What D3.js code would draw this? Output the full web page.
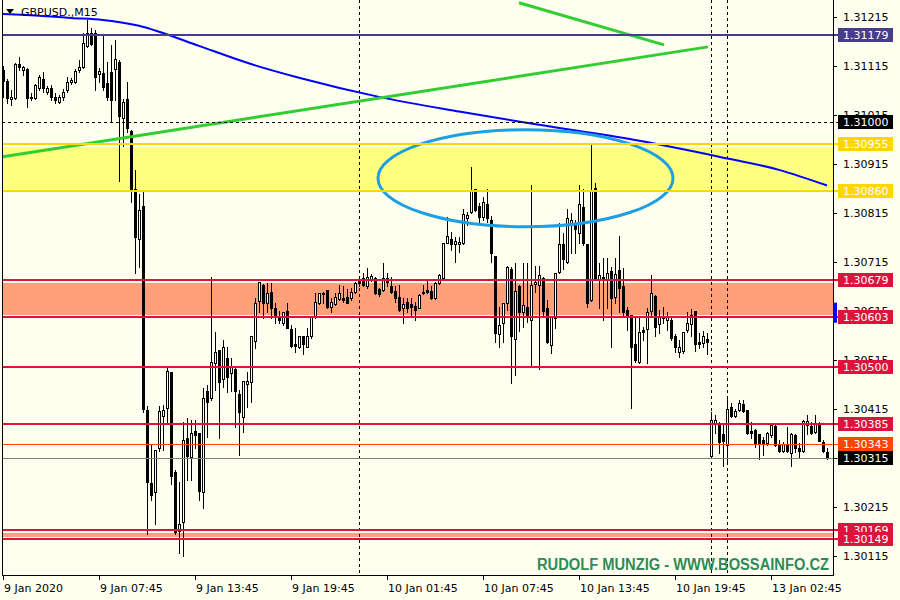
<!DOCTYPE html>
<html><head><meta charset="utf-8">
<script src="https://cdnjs.cloudflare.com/ajax/libs/d3/7.8.5/d3.min.js"></script>
<style>body{margin:0;background:#FFFFF0;} svg{display:block;font-family:"DejaVu Sans",Verdana,sans-serif;}</style>
</head><body><svg id="chart" width="900" height="600"></svg>
<script>
const symbolTitle = "GBPUSD.,M15";
const watermark = "RUDOLF MUNZIG - WWW.BOSSAINFO.CZ";

const openP = [
1.31107,1.31085,1.31048,1.31050,1.31119,1.31107,1.31109,1.31052,1.31050,1.31070,
1.31089,1.31062,1.31070,1.31052,1.31042,1.31052,1.31066,1.31083,1.31083,1.31107,
1.31113,1.31156,1.31183,1.31183,1.31099,1.31101,1.31081,1.31103,1.31109,1.31124,
1.31009,1.31048,1.30983,1.30864,1.30762,1.30830,1.30412,1.30263,1.30246,1.30336,
1.30401,1.30418,1.30491,1.30287,1.30167,1.30185,1.30356,1.30318,1.30371,1.30367,
1.30246,1.30452,1.30438,1.30509,1.30536,1.30477,1.30520,1.30489,1.30497,1.30446,
1.30399,1.30467,1.30471,1.30554,1.30636,1.30669,1.30632,1.30654,1.30622,1.30603,
1.30591,1.30616,1.30579,1.30548,1.30542,1.30563,1.30542,1.30563,1.30603,1.30632,
1.30652,1.30658,1.30624,1.30630,1.30640,1.30642,1.30644,1.30642,1.30654,1.30677,
1.30683,1.30665,1.30679,1.30683,1.30660,1.30658,1.30683,1.30667,1.30656,1.30644,
1.30622,1.30634,1.30630,1.30626,1.30622,1.30652,1.30658,1.30656,1.30642,1.30673,
1.30683,1.30754,1.30762,1.30752,1.30752,1.30754,1.30805,1.30818,1.30864,1.30830,
1.30807,1.30834,1.30801,1.30728,1.30569,1.30591,1.30632,1.30701,1.30558,1.30667,
1.30612,1.30624,1.30597,1.30671,1.30669,1.30683,1.30622,1.30546,1.30601,1.30695,
1.30752,1.30716,1.30795,1.30791,1.30775,1.30828,1.30752,1.30638,1.30867,1.30679,
1.30685,1.30679,1.30697,1.30644,1.30699,1.30667,1.30618,1.30607,1.30548,1.30511,
1.30577,1.30579,1.30614,1.30646,1.30589,1.30603,1.30597,1.30597,1.30565,1.30532,
1.30534,1.30577,1.30589,1.30614,1.30552,1.30550,1.30558,1.30320,1.30387,1.30383,
1.30363,1.30342,1.30420,1.30401,1.30412,1.30426,1.30412,1.30371,1.30373,1.30363,
1.30352,1.30346,1.30361,1.30381,1.30344,1.30330,1.30344,1.30326,1.30361,1.30336,
1.30330,1.30383,1.30381,1.30369,1.30387,1.30348,1.30328];

const highP = [
1.31115,1.31089,1.31066,1.31121,1.31134,1.31115,1.31111,1.31060,1.31079,1.31097,
1.31103,1.31075,1.31077,1.31060,1.31056,1.31068,1.31093,1.31091,1.31109,1.31128,
1.31183,1.31209,1.31193,1.31189,1.31111,1.31177,1.31124,1.31158,1.31168,1.31128,
1.31048,1.31083,1.30985,1.30903,1.30854,1.30862,1.30422,1.30342,1.30332,1.30422,
1.30424,1.30503,1.30491,1.30291,1.30265,1.30389,1.30397,1.30393,1.30393,1.30367,
1.30458,1.30463,1.30685,1.30573,1.30536,1.30556,1.30542,1.30520,1.30501,1.30454,
1.30473,1.30491,1.30563,1.30642,1.30675,1.30671,1.30673,1.30673,1.30632,1.30614,
1.30612,1.30632,1.30587,1.30581,1.30563,1.30563,1.30581,1.30603,1.30652,1.30652,
1.30654,1.30658,1.30642,1.30652,1.30669,1.30665,1.30660,1.30662,1.30675,1.30683,
1.30693,1.30703,1.30691,1.30685,1.30662,1.30713,1.30693,1.30685,1.30667,1.30669,
1.30642,1.30642,1.30642,1.30634,1.30650,1.30669,1.30679,1.30665,1.30675,1.30691,
1.30754,1.30807,1.30777,1.30767,1.30767,1.30824,1.30818,1.30909,1.30864,1.30836,
1.30848,1.30864,1.30809,1.30728,1.30624,1.30632,1.30707,1.30705,1.30713,1.30669,
1.30713,1.30713,1.30873,1.30707,1.30707,1.30685,1.30638,1.30603,1.30693,1.30795,
1.30775,1.30824,1.30816,1.30801,1.30873,1.30864,1.30752,1.30954,1.30877,1.30713,
1.30724,1.30724,1.30705,1.30724,1.30769,1.30703,1.30624,1.30607,1.30605,1.30603,
1.30583,1.30622,1.30689,1.30648,1.30618,1.30624,1.30612,1.30605,1.30569,1.30556,
1.30573,1.30612,1.30620,1.30614,1.30571,1.30575,1.30571,1.30408,1.30403,1.30389,
1.30383,1.30438,1.30428,1.30416,1.30434,1.30434,1.30412,1.30389,1.30375,1.30363,
1.30358,1.30369,1.30387,1.30383,1.30352,1.30348,1.30379,1.30367,1.30363,1.30346,
1.30393,1.30403,1.30389,1.30403,1.30389,1.30352,1.30336];

const lowP = [
1.31052,1.31040,1.31036,1.31048,1.31107,1.31097,1.31032,1.31046,1.31048,1.31066,
1.31062,1.31058,1.31046,1.31040,1.31040,1.31046,1.31062,1.31079,1.31081,1.31103,
1.31111,1.31154,1.31158,1.31066,1.31083,1.31066,1.31046,1.31001,1.31046,1.30881,
1.30952,1.30981,1.30838,1.30693,1.30705,1.30408,1.30159,1.30230,1.30181,1.30330,
1.30332,1.30389,1.30261,1.30159,1.30122,1.30114,1.30271,1.30271,1.30336,1.30230,
1.30212,1.30358,1.30434,1.30454,1.30356,1.30460,1.30450,1.30452,1.30379,1.30322,
1.30369,1.30420,1.30430,1.30540,1.30612,1.30601,1.30612,1.30601,1.30591,1.30591,
1.30587,1.30581,1.30542,1.30532,1.30540,1.30528,1.30542,1.30560,1.30601,1.30630,
1.30632,1.30622,1.30612,1.30628,1.30638,1.30634,1.30632,1.30638,1.30652,1.30665,
1.30665,1.30662,1.30677,1.30650,1.30646,1.30656,1.30665,1.30652,1.30634,1.30614,
1.30591,1.30612,1.30607,1.30597,1.30622,1.30650,1.30652,1.30640,1.30640,1.30671,
1.30681,1.30754,1.30740,1.30716,1.30736,1.30752,1.30791,1.30816,1.30820,1.30797,
1.30801,1.30797,1.30716,1.30552,1.30542,1.30552,1.30618,1.30469,1.30485,1.30575,
1.30583,1.30593,1.30501,1.30654,1.30497,1.30607,1.30550,1.30530,1.30581,1.30693,
1.30701,1.30713,1.30734,1.30734,1.30754,1.30750,1.30624,1.30636,1.30679,1.30622,
1.30597,1.30622,1.30542,1.30632,1.30612,1.30607,1.30577,1.30418,1.30511,1.30509,
1.30556,1.30509,1.30605,1.30563,1.30571,1.30591,1.30577,1.30556,1.30532,1.30522,
1.30530,1.30573,1.30563,1.30534,1.30540,1.30542,1.30528,1.30316,1.30367,1.30326,
1.30299,1.30305,1.30399,1.30399,1.30410,1.30408,1.30365,1.30356,1.30338,1.30312,
1.30322,1.30342,1.30358,1.30340,1.30328,1.30328,1.30328,1.30299,1.30328,1.30318,
1.30328,1.30363,1.30365,1.30367,1.30350,1.30328,1.30312];

const closeP = [
1.31085,1.31050,1.31052,1.31119,1.31113,1.31113,1.31050,1.31050,1.31077,1.31093,
1.31070,1.31070,1.31052,1.31046,1.31052,1.31062,1.31083,1.31087,1.31105,1.31113,
1.31162,1.31183,1.31160,1.31093,1.31105,1.31073,1.31052,1.31046,1.31130,1.31013,
1.31042,1.30989,1.30864,1.30767,1.30822,1.30414,1.30265,1.30240,1.30332,1.30410,
1.30412,1.30493,1.30279,1.30163,1.30181,1.30352,1.30320,1.30367,1.30361,1.30248,
1.30438,1.30430,1.30511,1.30532,1.30471,1.30542,1.30481,1.30501,1.30452,1.30408,
1.30473,1.30473,1.30563,1.30632,1.30675,1.30632,1.30652,1.30622,1.30603,1.30597,
1.30612,1.30581,1.30544,1.30544,1.30563,1.30548,1.30563,1.30603,1.30634,1.30652,
1.30650,1.30624,1.30634,1.30644,1.30652,1.30638,1.30632,1.30654,1.30673,1.30673,
1.30669,1.30685,1.30687,1.30652,1.30650,1.30683,1.30675,1.30654,1.30642,1.30618,
1.30630,1.30622,1.30624,1.30618,1.30648,1.30654,1.30654,1.30642,1.30673,1.30689,
1.30754,1.30769,1.30752,1.30758,1.30756,1.30813,1.30811,1.30860,1.30822,1.30807,
1.30838,1.30805,1.30734,1.30571,1.30587,1.30632,1.30705,1.30563,1.30656,1.30612,
1.30628,1.30603,1.30669,1.30675,1.30689,1.30616,1.30552,1.30603,1.30693,1.30752,
1.30722,1.30805,1.30801,1.30783,1.30834,1.30754,1.30632,1.30862,1.30683,1.30689,
1.30683,1.30693,1.30642,1.30691,1.30662,1.30612,1.30603,1.30542,1.30516,1.30573,
1.30573,1.30612,1.30652,1.30583,1.30605,1.30601,1.30603,1.30560,1.30542,1.30542,
1.30573,1.30591,1.30607,1.30548,1.30548,1.30563,1.30552,1.30393,1.30393,1.30348,
1.30350,1.30416,1.30401,1.30410,1.30428,1.30410,1.30367,1.30367,1.30344,1.30344,
1.30344,1.30367,1.30383,1.30342,1.30330,1.30344,1.30330,1.30363,1.30336,1.30330,
1.30391,1.30391,1.30367,1.30387,1.30350,1.30330,1.30315];

// Moving average (anchor bars and values)
const maBars   = [0,10,17,25,34,39,49,62,74,94,114,134,158,179,194,206];
const maValues = [1.31221,1.31217,1.31213,1.31209,1.31197,1.31185,1.31156,1.31119,1.31091,1.31052,1.31022,1.30995,1.30964,1.30930,1.30903,1.30871];

// time axis
const timeLabels = ["9 Jan 2020","9 Jan 07:45","9 Jan 13:45","9 Jan 19:45","10 Jan 01:45","10 Jan 07:45","10 Jan 13:45","10 Jan 19:45","13 Jan 02:45"];
const timeLabelBars = [0,24,48,72,96,120,144,168,192];
const separatorBars = [89,177,181];

// price axis
const priceTicks = [1.31215,1.31115,1.31015,1.30915,1.30815,1.30715,1.30615,1.30515,1.30415,1.30315,1.30215,1.30115];

// horizontal levels & zones
const levelPrices = [1.31179,1.31000,1.30955,1.30860,1.30679,1.30603,1.30500,1.30385,1.30343,1.30315,1.30169,1.30149];
const zoneTop    = [1.30955,1.30679,1.30169];
const zoneBottom = [1.30860,1.30603,1.30149];

// drawn objects
const trend1Bars = [0,176.25], trend1Prices = [1.30930,1.31154];
const trend2Bars = [129,165.25], trend2Prices = [1.31244,1.31158];
const ellipseBars = [93.75,167.5], ellipsePrices = [1.30985,1.30787];
const markerPrices = [1.30632,1.30591];

// ---------- styles ----------
const levelStyle = [
 {c:"#483D8B",w:2,box:"#483D8B"},
 {c:"#000000",w:1,dash:"3,3",box:"#000000"},
 {c:"#FFD700",w:2,box:"#FFD700"},
 {c:"#FFD700",w:2,box:"#FFD700"},
 {c:"#DC143C",w:2,box:"#DC143C"},
 {c:"#DC143C",w:2,box:"#DC143C"},
 {c:"#DC143C",w:2,box:"#DC143C"},
 {c:"#DC143C",w:2,box:"#DC143C"},
 {c:"#FF4500",w:1,box:"#FF4500"},
 {c:"#808080",w:1,box:"#000000"},
 {c:"#DC143C",w:2,box:"#DC143C"},
 {c:"#DC143C",w:2,box:"#DC143C"}];
const zoneFill = ["#FFFF80","#FFA07A","#FFA07A"];

const svg = d3.select("#chart");
const W=900,H=600, plotL=2, plotR=833, plotB=575;
svg.append("rect").attr("width",W).attr("height",H).attr("fill","#FFFFF0");

const n = openP.length;
const x = d3.scaleLinear().domain([0,n-1]).range([3,827]);
const y = d3.scaleLinear().domain([1.30115,1.31215]).range([556,17]);

svg.append("defs").append("clipPath").attr("id","clip")
  .append("rect").attr("x",plotL).attr("y",0).attr("width",plotR-plotL).attr("height",plotB);
const g = svg.append("g").attr("clip-path","url(#clip)");

// zones
g.selectAll("rect.zone").data(d3.range(zoneTop.length)).join("rect")
  .attr("class","zone").attr("shape-rendering","crispEdges")
  .attr("x",plotL).attr("width",plotR-plotL)
  .attr("y",i=>Math.round(y(zoneTop[i]))+3)
  .attr("height",i=>Math.max(1,Math.round(y(zoneBottom[i]))-Math.round(y(zoneTop[i]))-5))
  .attr("fill",i=>zoneFill[i]);

// separators
g.selectAll("line.sep").data(separatorBars).join("line")
  .attr("x1",b=>Math.round(x(b))+0.5).attr("x2",b=>Math.round(x(b))+0.5)
  .attr("y1",0).attr("y2",plotB).attr("stroke","#000").attr("stroke-width",1)
  .attr("stroke-dasharray","3,3").attr("shape-rendering","crispEdges");

// levels
const lv = svg.append("g");
lv.selectAll("line").data(d3.range(levelPrices.length)).join("line")
  .attr("x1",plotL).attr("x2",838)
  .attr("y1",i=>{const s=levelStyle[i];return Math.round(y(levelPrices[i]))+(s.w%2?0.5:0);})
  .attr("y2",i=>{const s=levelStyle[i];return Math.round(y(levelPrices[i]))+(s.w%2?0.5:0);})
  .attr("stroke",i=>levelStyle[i].c).attr("stroke-width",i=>levelStyle[i].w)
  .attr("stroke-dasharray",i=>levelStyle[i].dash||null).attr("shape-rendering","crispEdges");

// moving average
g.append("path").datum(d3.range(maBars.length))
  .attr("d",d3.line().x(i=>x(maBars[i])).y(i=>y(maValues[i])).curve(d3.curveMonotoneX))
  .attr("fill","none").attr("stroke","#0000FF").attr("stroke-width",2);

// candles
const cg = g.append("g").attr("shape-rendering","crispEdges");
const bars = d3.range(n);
cg.selectAll("line.wick").data(bars).join("line")
  .attr("x1",i=>Math.round(x(i))+0.5).attr("x2",i=>Math.round(x(i))+0.5)
  .attr("y1",i=>Math.round(y(Math.max(highP[i],openP[i],closeP[i]))))
  .attr("y2",i=>Math.round(y(Math.min(lowP[i],openP[i],closeP[i])))+1)
  .attr("stroke","#000").attr("stroke-width",1);
cg.selectAll("rect.body").data(bars).join("rect")
  .each(function(i){
    const cx=Math.round(x(i));
    const top=Math.round(y(Math.max(openP[i],closeP[i])));
    const bot=Math.round(y(Math.min(openP[i],closeP[i])));
    const s=d3.select(this);
    if(closeP[i]>openP[i]){
      s.attr("x",cx-0.5).attr("y",top+0.5).attr("width",2).attr("height",Math.max(1,bot-top))
       .attr("fill","#FFFFFF").attr("stroke","#000").attr("stroke-width",1);
    } else {
      s.attr("x",cx-1).attr("y",top).attr("width",3).attr("height",Math.max(1,bot-top+1))
       .attr("fill","#000");
    }
  });

// trendlines
const tl = d3.line().x(d=>x(d[0])).y(d=>y(d[1]));
g.append("path").datum([[trend1Bars[0],trend1Prices[0]],[trend1Bars[1],trend1Prices[1]]])
  .attr("d",tl).attr("stroke","#32CD32").attr("stroke-width",3).attr("fill","none");
g.append("path").datum([[trend2Bars[0],trend2Prices[0]],[trend2Bars[1],trend2Prices[1]]])
  .attr("d",tl).attr("stroke","#32CD32").attr("stroke-width",3).attr("fill","none");

// ellipse
g.append("ellipse")
  .attr("cx",(x(ellipseBars[0])+x(ellipseBars[1]))/2)
  .attr("cy",(y(ellipsePrices[0])+y(ellipsePrices[1]))/2)
  .attr("rx",(x(ellipseBars[1])-x(ellipseBars[0]))/2)
  .attr("ry",(y(ellipsePrices[1])-y(ellipsePrices[0]))/2)
  .attr("fill","none").attr("stroke","#1E9FE3").attr("stroke-width",3);

// frame
const fr = svg.append("g").attr("shape-rendering","crispEdges").attr("stroke","#000");
fr.append("line").attr("x1",plotL+0.5).attr("x2",plotL+0.5).attr("y1",0).attr("y2",plotB+1);
fr.append("line").attr("x1",plotR+0.5).attr("x2",plotR+0.5).attr("y1",0).attr("y2",plotB+1);
fr.append("line").attr("x1",plotL).attr("x2",plotR+1).attr("y1",plotB+0.5).attr("y2",plotB+0.5);

// price ticks
const ax = svg.append("g").attr("font-size","11px");
ax.selectAll("line.pt").data(priceTicks).join("line")
  .attr("x1",plotR).attr("x2",plotR+4)
  .attr("y1",p=>Math.round(y(p))+0.5).attr("y2",p=>Math.round(y(p))+0.5)
  .attr("stroke","#000").attr("shape-rendering","crispEdges");
ax.selectAll("text.pt").data(priceTicks).join("text")
  .attr("x",843).attr("y",p=>y(p)+4).attr("fill","#000").text(p=>p.toFixed(5));

// marker
svg.append("rect").attr("x",plotR).attr("width",4)
  .attr("y",y(markerPrices[0])).attr("height",y(markerPrices[1])-y(markerPrices[0]))
  .attr("fill","#0000FF");

// level label boxes
const lb = svg.append("g").attr("font-size","11px");
d3.range(levelPrices.length).forEach(i=>{
  const yy=Math.round(y(levelPrices[i]));
  lb.append("rect").attr("x",838).attr("y",yy-7).attr("width",55).attr("height",14)
    .attr("fill",levelStyle[i].box).attr("shape-rendering","crispEdges");
  lb.append("text").attr("x",843).attr("y",yy+4).attr("fill","#FFFFFF").text(levelPrices[i].toFixed(5));
});

// time axis
const tx = svg.append("g").attr("font-size","11px");
tx.selectAll("line").data(timeLabelBars).join("line")
  .attr("x1",b=>Math.round(x(b))+0.5).attr("x2",b=>Math.round(x(b))+0.5)
  .attr("y1",plotB+1).attr("y2",plotB+5).attr("stroke","#000").attr("shape-rendering","crispEdges");
tx.selectAll("text").data(timeLabelBars).join("text")
  .attr("x",b=>Math.round(x(b))+1).attr("y",592).attr("fill","#000")
  .text((b,i)=>timeLabels[i]);

// title
svg.append("path").attr("d","M6,9 L14,9 L10,14 Z").attr("fill","#000");
svg.append("text").attr("x",21).attr("y",16).attr("font-size","11px").attr("fill","#000").text(symbolTitle);

// watermark
svg.append("text").attr("x",829).attr("y",570).attr("text-anchor","end")
  .attr("font-family","'Liberation Sans',Arial,sans-serif").attr("font-weight","bold")
  .attr("font-size","16px").attr("fill","#2E8B57")
  .attr("textLength",292).attr("lengthAdjust","spacingAndGlyphs").text(watermark);
</script></body></html>
